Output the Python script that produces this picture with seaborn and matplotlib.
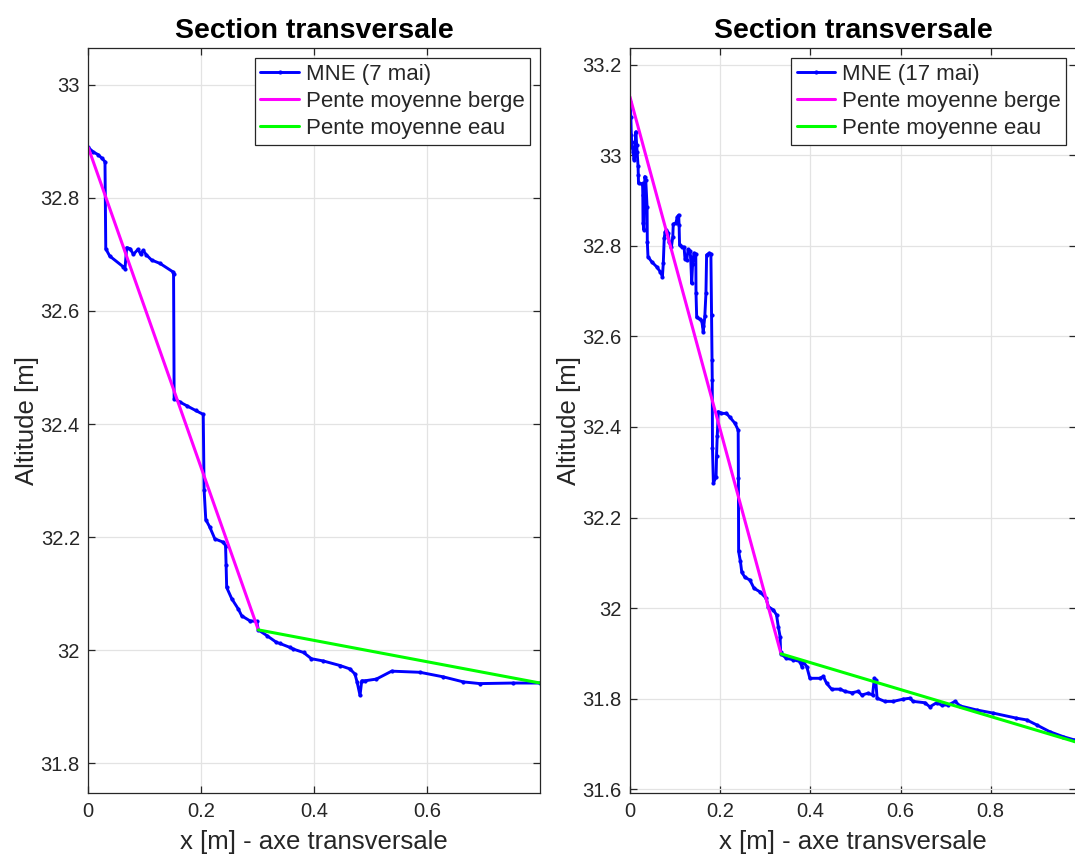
import pandas as pd
import seaborn as sns
import matplotlib.pyplot as plt
from matplotlib.ticker import FuncFormatter, MultipleLocator

# profil du 7 mai (x [m], altitude [m])
x_7mai = [0.000, 0.009, 0.018, 0.024, 0.0296, 0.031, 0.038, 0.062, 0.065, 0.068,
          0.074, 0.080, 0.088, 0.093, 0.097, 0.103, 0.112, 0.127, 0.150, 0.151,
          0.152, 0.162, 0.175, 0.190, 0.2035, 0.205, 0.208, 0.215, 0.224, 0.239,
          0.243, 0.244, 0.245, 0.254, 0.2655, 0.2715, 0.286, 0.298, 0.301, 0.316,
          0.333, 0.339, 0.357, 0.363, 0.381, 0.395, 0.416, 0.4455, 0.463, 0.472,
          0.476, 0.481, 0.484, 0.490, 0.510, 0.537, 0.587, 0.628, 0.664, 0.693,
          0.752, 0.7995]
z_7mai = [32.889, 32.881, 32.876, 32.870, 32.864, 32.710, 32.697, 32.678, 32.675, 32.712,
          32.710, 32.700, 32.709, 32.700, 32.707, 32.699, 32.690, 32.684, 32.669, 32.665,
          32.445, 32.439, 32.432, 32.424, 32.417, 32.284, 32.231, 32.218, 32.197, 32.191,
          32.185, 32.150, 32.111, 32.091, 32.073, 32.061, 32.052, 32.051, 32.036, 32.026,
          32.014, 32.012, 32.005, 32.002, 31.996, 31.985, 31.981, 31.973, 31.967, 31.958,
          31.943, 31.920, 31.946, 31.946, 31.949, 31.963, 31.961, 31.953, 31.944, 31.941,
          31.942, 31.942]

# profil du 17 mai
x_17mai = [0.000, 0.002, 0.003, 0.004, 0.005, 0.007, 0.009, 0.011, 0.013, 0.015,
           0.016, 0.018, 0.0185, 0.019, 0.026, 0.028, 0.0285, 0.029, 0.031, 0.033,
           0.035, 0.038, 0.0385, 0.040, 0.048, 0.059, 0.067, 0.072, 0.074, 0.076,
           0.078, 0.081, 0.085, 0.087, 0.092, 0.095, 0.096, 0.102, 0.105, 0.108,
           0.109, 0.110, 0.115, 0.120, 0.122, 0.126, 0.129, 0.133, 0.1345, 0.137,
           0.139, 0.142, 0.146, 0.1465, 0.148, 0.155, 0.159, 0.161, 0.1625, 0.166,
           0.1685, 0.170, 0.176, 0.1795, 0.181, 0.182, 0.1825, 0.183, 0.185, 0.191,
           0.192, 0.1935, 0.196, 0.203, 0.214, 0.222, 0.233, 0.240, 0.2405, 0.241,
           0.245, 0.248, 0.255, 0.266, 0.275, 0.288, 0.302, 0.307, 0.318, 0.325,
           0.329, 0.333, 0.334, 0.335, 0.347, 0.362, 0.377, 0.381, 0.384, 0.392,
           0.399, 0.421, 0.429, 0.436, 0.447, 0.466, 0.477, 0.492, 0.506, 0.514,
           0.528, 0.538, 0.542, 0.545, 0.548, 0.565, 0.584, 0.606, 0.621, 0.628,
           0.654, 0.665, 0.680, 0.691, 0.706, 0.721, 0.732, 0.769, 0.806, 0.857,
           0.880, 0.902, 0.931, 0.961, 0.985, 0.990]
z_17mai = [33.118, 33.085, 33.045, 33.030, 33.019, 33.008, 32.990, 33.001, 33.052, 33.023,
           33.008, 32.976, 32.956, 32.938, 32.937, 32.938, 32.912, 32.850, 32.835, 32.953,
           32.946, 32.886, 32.809, 32.776, 32.765, 32.754, 32.743, 32.732, 32.763, 32.817,
           32.831, 32.835, 32.828, 32.809, 32.798, 32.820, 32.848, 32.851, 32.864, 32.868,
           32.846, 32.802, 32.798, 32.797, 32.772, 32.769, 32.792, 32.789, 32.776, 32.717,
           32.761, 32.784, 32.782, 32.695, 32.642, 32.638, 32.635, 32.622, 32.610, 32.644,
           32.695, 32.780, 32.784, 32.782, 32.647, 32.548, 32.504, 32.353, 32.276, 32.290,
           32.335, 32.379, 32.434, 32.430, 32.430, 32.421, 32.408, 32.393, 32.287, 32.125,
           32.103, 32.079, 32.068, 32.062, 32.044, 32.036, 32.022, 32.003, 31.996, 31.985,
           31.959, 31.937, 31.904, 31.899, 31.889, 31.886, 31.882, 31.871, 31.882, 31.871,
           31.845, 31.845, 31.849, 31.834, 31.821, 31.821, 31.816, 31.813, 31.816, 31.808,
           31.812, 31.808, 31.845, 31.841, 31.801, 31.794, 31.794, 31.799, 31.801, 31.794,
           31.791, 31.782, 31.791, 31.786, 31.786, 31.794, 31.784, 31.775, 31.768, 31.757,
           31.753, 31.742, 31.727, 31.716, 31.709, 31.707]

# pentes moyennes (extremites des segments)
berge_7mai_x = [0.0, 0.301]
berge_7mai_z = [32.889, 32.036]
eau_7mai_x = [0.301, 0.7995]
eau_7mai_z = [32.036, 31.942]
berge_17mai_x = [0.0, 0.335]
berge_17mai_z = [33.129, 31.899]
eau_17mai_x = [0.335, 0.990]
eau_17mai_z = [31.899, 31.704]

sns.set_theme(style='whitegrid')
plt.rcParams['font.family'] = ['Liberation Sans', 'DejaVu Sans']

fig, axes = plt.subplots(1, 2, figsize=(10.75, 8.58), dpi=100)
axes[0].set_position([0.0821, 0.0754, 0.4202, 0.8687])
axes[1].set_position([0.5860, 0.0754, 0.4153, 0.8687])

panels = [
    (axes[0], x_7mai, z_7mai, berge_7mai_x, berge_7mai_z, eau_7mai_x, eau_7mai_z,
     'MNE (7 mai)', (0, 0.7995), (31.747, 33.065)),
    (axes[1], x_17mai, z_17mai, berge_17mai_x, berge_17mai_z, eau_17mai_x, eau_17mai_z,
     'MNE (17 mai)', (0, 0.990), (31.591, 33.237)),
]

fmt = FuncFormatter(lambda v, p: '%g' % round(v, 3))

for ax, xs, zs, bx, bz, ex, ez, lab, xlim, ylim in panels:
    df = pd.DataFrame({'x': xs, 'z': zs})
    sns.lineplot(data=df, x='x', y='z', sort=False, estimator=None, ax=ax,
                 color='#0000ff', lw=2.1, marker='.', markersize=4.5,
                 markeredgecolor='#0000ff', label=lab)
    sns.lineplot(x=bx, y=bz, ax=ax, color='#ff00ff', lw=2.2, label='Pente moyenne berge')
    sns.lineplot(x=ex, y=ez, ax=ax, color='#00ff00', lw=2.2, label='Pente moyenne eau')

    ax.set_xlim(*xlim)
    ax.set_ylim(*ylim)
    ax.xaxis.set_major_locator(MultipleLocator(0.2))
    ax.yaxis.set_major_locator(MultipleLocator(0.2))
    ax.xaxis.set_major_formatter(fmt)
    ax.yaxis.set_major_formatter(fmt)

    ax.grid(True, color='#e3e3e3', lw=0.9)
    for s in ax.spines.values():
        s.set_color('#262626')
        s.set_linewidth(0.9)
        s.set_visible(True)
    ax.tick_params(direction='in', length=5, width=0.9, color='#262626',
                   labelcolor='#262626', labelsize=14.5, top=True, right=True,
                   bottom=True, left=True, pad=6)

    ax.set_title('Section transversale', fontsize=20.5, fontweight='bold',
                 color='black', pad=7)
    ax.set_xlabel('x [m] - axe transversale', fontsize=18.5, color='#262626', labelpad=7)
    ax.set_ylabel('Altitude [m]', fontsize=18.5, color='#262626', labelpad=1)

    leg = ax.legend(loc='upper right', fontsize=16, frameon=True, fancybox=False,
                    framealpha=1, edgecolor='#262626', borderpad=0.25,
                    labelspacing=0.28, handlelength=1.75, handletextpad=0.3,
                    borderaxespad=0.45)
    leg.get_frame().set_linewidth(0.9)

plt.savefig('out.png', dpi=100)
